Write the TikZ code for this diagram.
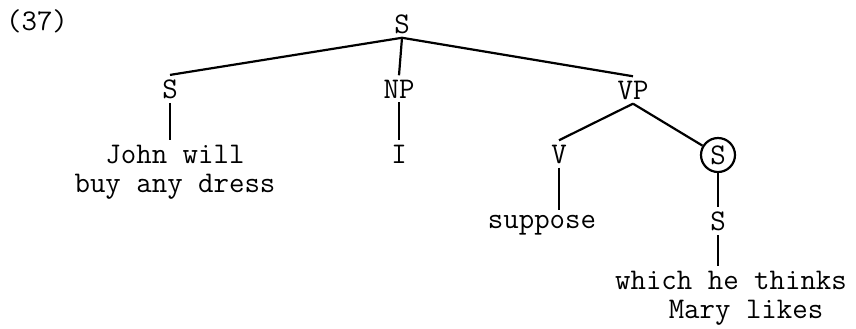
\documentclass[tikz,border=0pt]{standalone}
\usepackage{tikz}
\usetikzlibrary{positioning}
\tikzset{
  cat/.style={font=\fontsize{15}{14.5}\selectfont\ttfamily, inner sep=2pt, anchor=base},
  leaf/.style={cat, align=center},
  branch/.style={black, line width=1.1pt},
}
\begin{document}
\begin{tikzpicture}[x=0.5pt,y=-0.5pt]
\useasboundingbox (0,0) rectangle (856,328);
% categories
\node[cat] (ex) at (37,30) {(37)};
\node[cat] (s) at (402,33) {S};
\node[cat] (s1) at (170,98) {S};
\node[cat] (np) at (399,98) {NP};
\node[cat] (vp) at (633,99) {VP};
\node[cat] (i) at (399,163) {I};
\node[cat] (v) at (559,163) {V};
\node[cat, circle, draw, line width=1.1pt, inner sep=0pt, minimum size=17pt, anchor=center] (cs) at (718,155) {S};
\node[cat] (s2) at (718,230) {S};
% words (base = last line)
\node[leaf] (john) at (175,192) {John will\\buy any dress};
\node[cat] (sup) at (542,228) {suppose};
\node[leaf] (which) at (731,318) {which he thinks\\\hspace*{15pt}Mary likes};
% branches
\draw[branch] (s.south) -- (s1.north);
\draw[branch] (s.south) -- (np.north);
\draw[branch] (s.south) -- (vp.north);
\draw[branch] (s1.south) -- (s1.south |- john.north);
\draw[branch] (np.south) -- (i.north);
\draw[branch] (vp.south) -- (v.north);
\draw[branch] (vp.south) -- (cs);
\draw[branch] (v.south) -- (v.south |- sup.north);
\draw[branch] (cs.south) -- (s2.north);
\draw[branch] (s2.south) -- (s2.south |- which.north);
\end{tikzpicture}
\end{document}
